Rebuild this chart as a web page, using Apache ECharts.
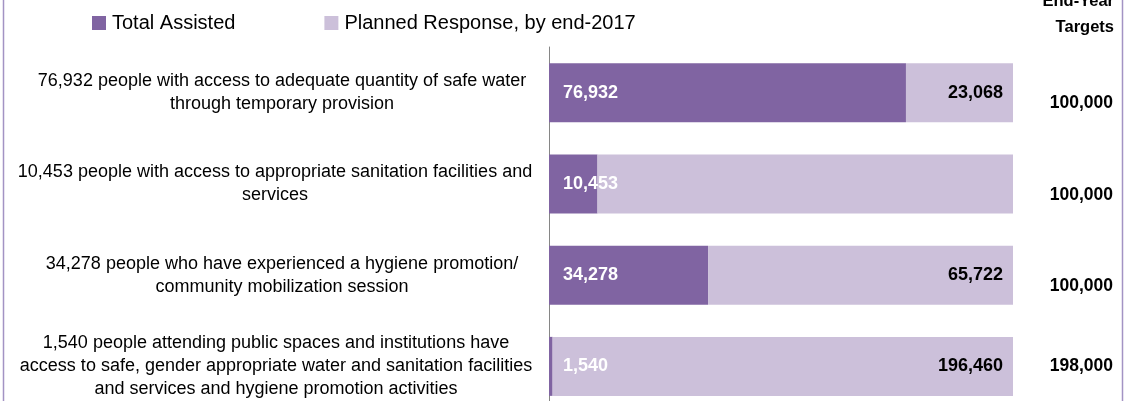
<!DOCTYPE html>
<html>
<head>
<meta charset="utf-8">
<script src="https://cdn.jsdelivr.net/npm/echarts@6/dist/echarts.min.js"></script>
<style>
  html, body { margin: 0; padding: 0; background: #fff; }
  #chart { width: 1127px; height: 401px; }
</style>
</head>
<body>
<div id="chart"></div>
<script>
// WASH indicators: people assisted vs. remaining planned response, against end-year targets
const indicators = [
  '76,932 people with access to adequate quantity of safe water\nthrough temporary provision',
  '10,453 people with access to appropriate sanitation facilities and\nservices',
  '34,278 people who have experienced a hygiene promotion/\ncommunity mobilization session',
  '1,540 people attending public spaces and institutions have\naccess to safe, gender appropriate water and sanitation facilities\nand services and hygiene promotion activities'
];
const totalAssisted   = [76932, 10453, 34278, 1540];
const plannedResponse = [23068, 89547, 65722, 196460];
const endYearTargets  = [100000, 100000, 100000, 198000];
const showPlannedLabel = [true, false, true, true];

const PURPLE = '#8064a2';
const LILAC = '#ccc0da';
const FONT = '"Liberation Sans", Arial, sans-serif';
const LABEL_SIZE = 18;

const fmt = v => v.toLocaleString('en-US');

// Each bar is shown as a share of its own target (100% stacked)
const assistedShare = totalAssisted.map((v, i) => v / endYearTargets[i]);
const plannedShare = plannedResponse.map((v, i) => v / endYearTargets[i]);

// Category text boxes are centred in the left column, but long ones
// are pulled left so they never run into the axis line.
const LABEL_CENTER = 282;
const LABEL_RIGHT_LIMIT = 532;
const measureCtx = document.createElement('canvas').getContext('2d');
measureCtx.font = LABEL_SIZE + 'px ' + FONT;
const labelShift = indicators.map(t => {
  const w = Math.max(...t.split('\n').map(line => measureCtx.measureText(line).width));
  return Math.max(0, Math.round(LABEL_CENTER + w / 2 - LABEL_RIGHT_LIMIT));
});

const chart = echarts.init(document.getElementById('chart'));
chart.setOption({
  animation: false,
  textStyle: { fontFamily: FONT },
  title: {
    text: 'End-Year\nTargets',
    left: 1109,
    top: -17,
    textAlign: 'right',
    textStyle: { fontFamily: FONT, fontSize: 16.5, fontWeight: 'bold', color: '#000', lineHeight: 26 }
  },
  legend: {
    left: 87,
    top: 8,
    itemWidth: 14,
    itemHeight: 14,
    itemGap: 89,
    icon: 'rect',
    textStyle: { fontFamily: FONT, fontSize: 20, color: '#000', padding: [0, 0, 0, 1] },
    data: ['Total Assisted', 'Planned Response, by end-2017']
  },
  grid: { left: 549, right: 114, top: 47, bottom: -11, outerBoundsMode: 'none' },
  xAxis: {
    type: 'value',
    min: 0,
    max: 1,
    show: false
  },
  yAxis: [
    {
      type: 'category',
      inverse: true,
      data: indicators,
      axisLine: { show: true, lineStyle: { color: '#868686', width: 1 } },
      axisTick: { show: false },
      axisLabel: {
        align: 'center',
        margin: 549 - LABEL_CENTER,
        formatter: (v, i) => '{t' + i + '|' + v + '}',
        rich: Object.fromEntries(labelShift.map((s, i) => ['t' + i, {
          fontFamily: FONT,
          fontSize: LABEL_SIZE,
          lineHeight: 23,
          color: '#000',
          padding: [0, s * 2, 0, 0]
        }]))
      }
    },
    {
      type: 'category',
      inverse: true,
      position: 'right',
      data: indicators,
      axisLine: { show: false },
      axisTick: { show: false },
      axisLabel: {
        align: 'right',
        margin: 100,
        formatter: (v, i) => i < 3 ? '{s|' + fmt(endYearTargets[i]) + '}' : '{n|' + fmt(endYearTargets[i]) + '}',
        rich: {
          s: { fontFamily: FONT, fontSize: 17.5, fontWeight: 'bold', color: '#000', padding: [22, 0, 0, 0] },
          n: { fontFamily: FONT, fontSize: 17.5, fontWeight: 'bold', color: '#000' }
        }
      }
    }
  ],
  series: [
    {
      name: 'Total Assisted',
      type: 'bar',
      stack: 'wash',
      barWidth: 59,
      itemStyle: { color: PURPLE },
      label: {
        show: true,
        position: 'insideLeft',
        distance: 14,
        color: '#fff',
        fontFamily: FONT,
        fontSize: 18,
        fontWeight: 'bold',
        formatter: p => fmt(totalAssisted[p.dataIndex])
      },
      data: assistedShare
    },
    {
      name: 'Planned Response, by end-2017',
      type: 'bar',
      stack: 'wash',
      barWidth: 59,
      itemStyle: { color: LILAC },
      label: {
        show: true,
        position: 'insideRight',
        distance: 10,
        color: '#000',
        fontFamily: FONT,
        fontSize: 18,
        fontWeight: 'bold',
        formatter: p => fmt(plannedResponse[p.dataIndex])
      },
      data: plannedShare.map((v, i) => ({ value: v, label: { show: showPlannedLabel[i] } }))
    }
  ],
  graphic: [
    { type: 'line', shape: { x1: 3.5, y1: 0, x2: 3.5, y2: 401 }, style: { stroke: '#a393c4', lineWidth: 1.5 } },
    { type: 'line', shape: { x1: 1122.5, y1: 0, x2: 1122.5, y2: 401 }, style: { stroke: '#a393c4', lineWidth: 1.5 } }
  ]
});
</script>
</body>
</html>
